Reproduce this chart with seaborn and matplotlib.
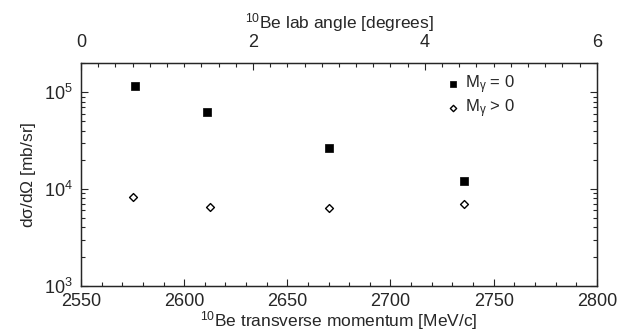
import matplotlib
matplotlib.use("Agg")
import matplotlib.pyplot as plt
import pandas as pd
import seaborn as sns
from matplotlib.ticker import LogLocator, MultipleLocator, NullFormatter

# Data
momentum_m0 = [2576, 2611, 2670, 2735.5]
xsec_m0 = [1.17e5, 6.25e4, 2.65e4, 1.22e4]
momentum_mg = [2575, 2612.5, 2670, 2735.5]
xsec_mg = [8.27e3, 6.56e3, 6.37e3, 7.05e3]
labels = [r"M$_\gamma$ = 0", r"M$_\gamma$ > 0"]

df0 = pd.DataFrame({"p": momentum_m0, "xs": xsec_m0})
df1 = pd.DataFrame({"p": momentum_mg, "xs": xsec_mg})

sns.set_style("ticks")
plt.rcParams["font.family"] = ["Liberation Sans", "DejaVu Sans"]
plt.rcParams["mathtext.fontset"] = "custom"
plt.rcParams["mathtext.rm"] = "Liberation Sans"
plt.rcParams["mathtext.it"] = "Liberation Sans"

fig = plt.figure(figsize=(6.23, 3.31), dpi=100)
ax = fig.add_axes([0.130, 0.137, 0.828, 0.672])

sns.scatterplot(data=df0, x="p", y="xs", marker="s", s=28, color="black",
                edgecolor="black", linewidth=0.5, label=labels[0], ax=ax)
sns.scatterplot(data=df1, x="p", y="xs", marker="D", s=16, facecolor="white",
                edgecolor="black", linewidth=1.0, label=labels[1], ax=ax)

ax.set_yscale("log")
ax.set_xlim(2550, 2800)
ax.set_ylim(1e3, 2e5)
ax.xaxis.set_major_locator(MultipleLocator(50))
ax.xaxis.set_minor_locator(MultipleLocator(10))
ax.yaxis.set_major_locator(LogLocator(base=10, numticks=10))
ax.yaxis.set_minor_locator(LogLocator(base=10, subs=range(2, 10), numticks=10))
ax.yaxis.set_minor_formatter(NullFormatter())
ax.tick_params(which="both", direction="in", right=True, labelsize=13, width=0.8)
ax.tick_params(which="major", length=5)
ax.tick_params(which="minor", length=3)
ax.tick_params(axis="x", pad=5)
ax.tick_params(axis="y", pad=6)
for sp in ax.spines.values():
    sp.set_linewidth(1.0)

ax.set_xlabel(r"$^{10}$Be transverse momentum [MeV/c]", fontsize=12.5, labelpad=0)
ax.set_ylabel(r"d$\sigma$/d$\Omega$ [mb/sr]", fontsize=12.5, labelpad=4)

# top axis: lab angle
ax2 = ax.twiny()
ax2.set_xlim(0, 6)
ax2.xaxis.set_major_locator(MultipleLocator(2))
ax2.xaxis.set_minor_locator(MultipleLocator(0.2))
ax2.tick_params(which="both", direction="in", labelsize=13, width=0.8, pad=9)
ax2.tick_params(which="major", length=5)
ax2.tick_params(which="minor", length=3)
ax2.set_xlabel(r"$^{10}$Be lab angle [degrees]", fontsize=12.5, labelpad=4)

leg = ax.legend(loc="upper left", bbox_to_anchor=(0.692, 0.985), frameon=False,
                fontsize=12, handletextpad=0.25, labelspacing=0.1,
                borderaxespad=0, handlelength=1.0, markerscale=0.8)

fig.savefig("out.png", dpi=100)
